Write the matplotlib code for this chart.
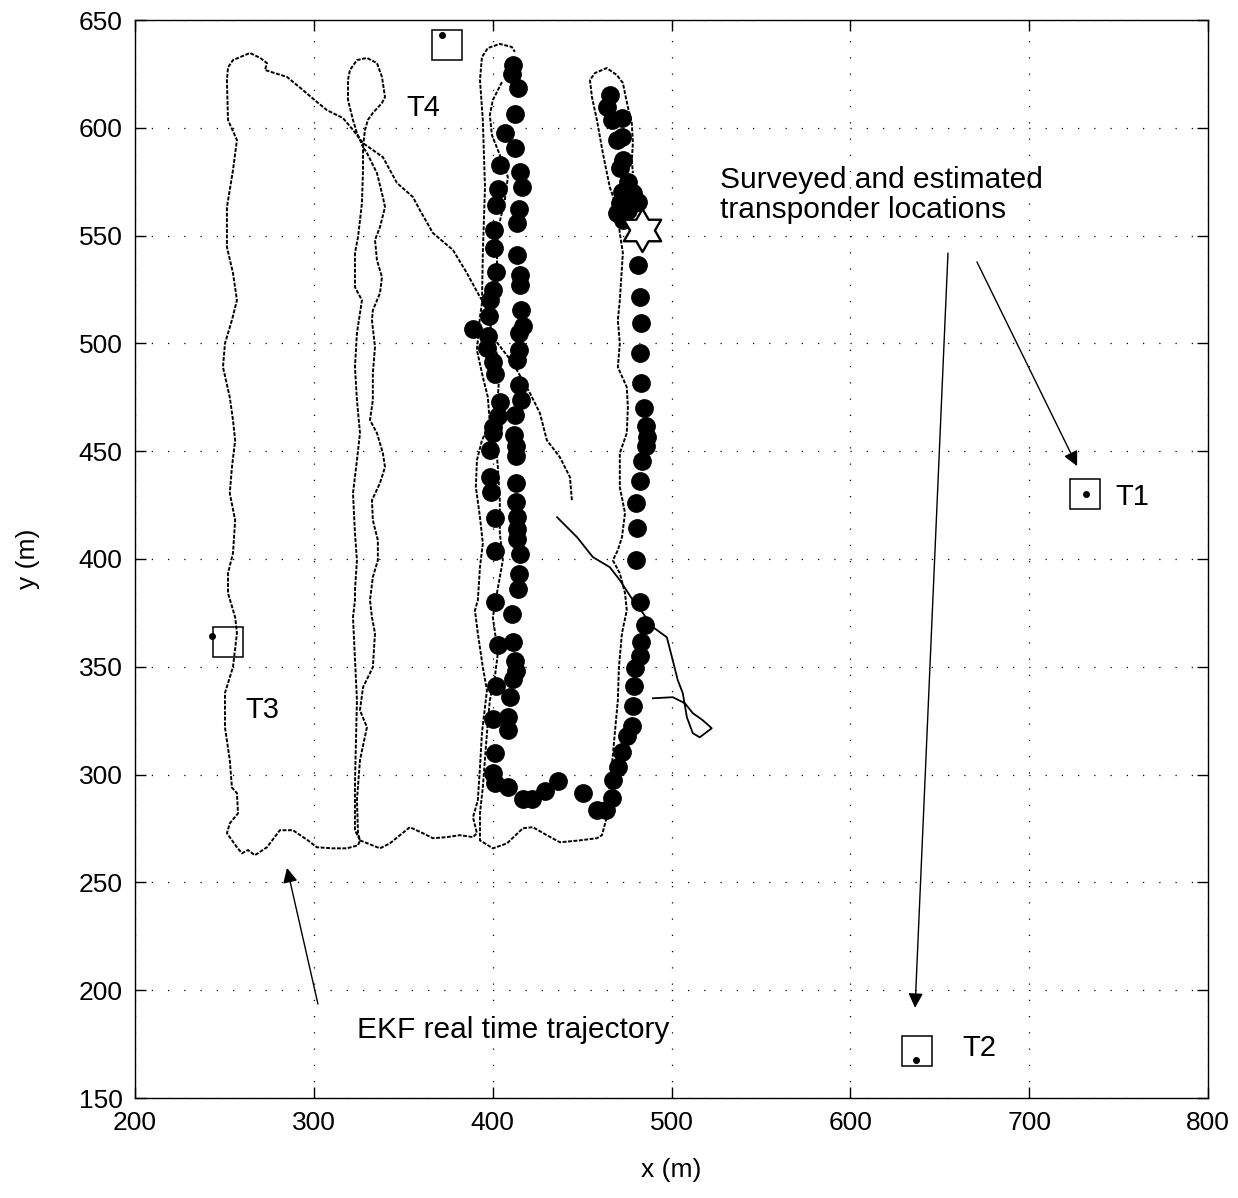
import numpy as np
import matplotlib
matplotlib.use("Agg")
import matplotlib.pyplot as plt
from matplotlib.path import Path

plt.rcParams['font.family'] = ['Liberation Sans', 'DejaVu Sans']

# ---------------- data (metres) ----------------
# EKF real-time trajectory, piece 1: diagonal, left leg, second leg loop, third leg (left line)
track1_x = [444.3, 443.2, 437.6, 430.3, 426.4, 420.8, 411.3, 400.1, 396.8, 392.9, 385.6, 377.8, 366.6, 359.3,
            355.4, 346.5, 338.6, 327.5, 321.9, 316.3, 307.3, 301.7, 293.9, 285.0, 272.7, 273.8, 270.0, 264.3,
            254.8, 252.0, 251.4, 252.0, 257.0, 254.8, 251.4, 251.4, 254.8, 257.0, 254.2, 250.3, 249.2, 253.0,
            254.8, 256.0, 254.2, 253.0, 256.0, 254.8, 252.0, 252.0, 256.0, 257.0, 254.8, 250.3, 250.3, 253.0,
            254.2, 257.0, 257.6, 253.0, 251.4, 257.0, 259.8, 263.2, 267.0, 273.8, 281.0, 288.3, 294.0, 296.7,
            301.7, 310.7, 318.5, 324.7, 325.8, 323.0, 323.0, 324.1, 321.9, 323.0, 323.0, 324.1, 323.0, 321.9,
            324.1, 325.8, 324.1, 323.0, 324.1, 325.8, 326.9, 323.0, 323.0, 324.7, 326.9, 327.5, 327.5, 324.1,
            321.9, 319.1, 319.1, 320.2, 324.1, 329.7, 335.3, 338.1, 339.8, 338.1, 333.0, 330.2, 328.6, 327.5,
            329.7, 335.3, 338.6, 339.8, 337.0, 334.2, 335.3, 338.1, 337.0, 333.0, 332.5, 334.2, 333.0, 333.0,
            331.4, 335.3, 338.6, 339.8, 337.0, 332.5, 333.0, 335.8, 335.8, 333.0, 331.4, 332.5, 334.2, 333.0,
            327.5, 325.8, 329.7, 325.8, 324.1, 324.7, 325.8, 337.0, 342.5, 353.7, 361.0, 366.6, 374.4, 381.7,
            389.0, 391.2, 389.0, 391.7, 392.9, 394.0, 396.8, 394.5, 391.7, 390.1, 391.7, 392.9, 394.5, 392.9,
            390.6, 391.2, 394.0, 398.4, 397.3, 394.5, 391.2, 392.9, 394.0, 394.5, 395.7, 394.5, 392.9, 394.0,
            397.3, 404.0, 410.7, 412.4]
track1_y = [427.3, 438.0, 447.2, 455.1, 467.7, 477.0, 490.9, 502.9, 516.8, 521.5, 532.6, 543.3, 551.2, 561.8,
            567.9, 574.4, 586.4, 592.9, 599.0, 604.5, 608.2, 612.0, 617.5, 623.6, 626.8, 630.0, 632.4, 634.7,
            631.4, 628.0, 622.0, 603.6, 594.3, 580.4, 563.2, 544.7, 532.6, 520.0, 510.8, 500.0, 489.0, 475.0,
            464.4, 455.0, 442.6, 430.5, 418.0, 402.7, 393.4, 384.2, 373.0, 365.6, 350.0, 337.8, 322.0, 306.7,
            294.0, 291.4, 282.0, 277.4, 272.8, 266.3, 263.5, 265.0, 262.6, 266.3, 274.2, 274.2, 271.0, 269.5,
            266.3, 265.8, 265.8, 267.2, 269.5, 274.2, 296.0, 334.5, 373.0, 380.9, 385.5, 399.4, 412.0, 430.5,
            445.8, 458.4, 473.7, 489.0, 504.8, 514.0, 520.0, 526.1, 541.9, 549.3, 565.1, 580.4, 591.1, 597.6,
            603.6, 612.9, 622.2, 626.8, 631.4, 632.4, 630.0, 623.6, 614.3, 611.5, 606.9, 603.6, 599.0, 591.1,
            588.3, 579.0, 567.9, 563.2, 554.0, 548.0, 538.6, 530.8, 523.3, 515.4, 510.8, 498.3, 486.2, 473.7,
            464.4, 458.4, 449.1, 442.6, 435.2, 427.3, 418.0, 408.7, 399.4, 391.6, 380.9, 373.0, 365.6, 349.8,
            340.5, 329.8, 322.0, 306.7, 288.1, 272.8, 269.5, 265.8, 268.1, 275.6, 272.8, 270.5, 271.0, 271.9,
            271.0, 272.8, 280.2, 288.1, 303.4, 319.2, 339.1, 349.8, 365.6, 376.2, 380.9, 396.2, 407.3, 419.4,
            433.3, 445.8, 455.0, 463.0, 475.1, 484.4, 496.9, 512.2, 518.7, 541.9, 572.5, 603.6, 622.2, 632.8,
            637.0, 638.9, 637.5, 635.2]

# piece 2: third leg (inner line), bottom turn, fourth leg
track2_x = [405.2, 400.1, 398.4, 399.6, 404.0, 408.5, 406.8, 402.9, 402.4, 402.9, 398.4, 404.0, 402.9, 401.2,
            402.9, 404.0, 404.0, 405.7, 402.4, 400.1, 402.9, 401.2, 398.4, 396.8, 394.5, 392.9, 392.9, 400.1,
            408.0, 416.9, 422.5, 430.3, 437.6, 448.8, 458.3, 461.1, 463.8, 464.4, 466.6, 468.3, 470.0, 470.6,
            472.3, 475.0, 474.0, 471.1, 467.2, 470.0, 472.3, 474.0, 471.1, 471.1, 475.0, 475.6, 475.0, 470.0,
            471.1, 470.0, 471.1, 472.8, 471.1, 469.4, 465.5, 461.6, 458.3, 455.5, 454.4, 457.2, 463.8, 469.4,
            472.8, 475.6, 477.8, 478.4, 477.8, 478.4]
track2_y = [621.2, 612.9, 605.9, 596.6, 587.4, 577.2, 566.5, 552.6, 538.6, 524.7, 509.4, 489.0, 475.1, 458.4,
            442.6, 427.3, 412.0, 399.4, 384.2, 373.0, 356.3, 345.2, 334.5, 319.2, 294.1, 282.1, 269.5, 265.8,
            268.1, 275.1, 275.6, 271.9, 268.6, 269.5, 270.5, 271.9, 280.2, 288.1, 303.4, 319.2, 334.5, 349.8,
            365.6, 376.2, 384.2, 393.4, 399.4, 404.1, 410.1, 421.3, 433.3, 449.1, 458.4, 470.4, 479.7, 489.0,
            499.9, 510.8, 520.0, 541.9, 551.2, 563.2, 572.5, 588.3, 603.6, 614.3, 622.2, 625.4, 627.7, 624.5,
            620.8, 609.6, 602.2, 592.9, 585.0, 579.0]

# piece 3: final run with loop
track3_x = [436.0, 447.2, 456.0, 465.5, 471.1, 478.4, 484.0, 489.6, 497.4, 500.7, 503.5, 506.3, 508.6, 511.9,
            515.8, 522.5, 517.5, 511.9, 507.5, 500.7, 489.6]
track3_y = [419.4, 410.1, 400.9, 396.2, 390.2, 380.9, 374.9, 368.4, 363.7, 353.0, 343.8, 337.8, 326.6, 319.2,
            317.3, 321.5, 325.2, 328.5, 333.1, 335.9, 335.4]

# large black dots
dots_x = [411.4, 411.0, 414.2, 412.5, 412.5, 415.3, 416.4, 414.7, 413.6, 413.6, 415.3, 415.3, 415.9, 417.0,
          414.7, 414.7, 413.6, 414.7, 415.9, 412.5, 411.9, 413.1, 413.1, 413.1, 413.1, 413.6, 413.6, 413.6,
          415.3, 414.7, 414.2, 410.8, 411.4, 412.5, 413.1, 411.4, 409.7, 408.6, 408.6, 408.6,
          406.9, 404.1, 403.0, 401.9, 400.8, 400.8, 401.9, 400.2, 398.5, 398.0, 389.0, 397.4, 396.8, 400.2,
          401.3, 404.1, 403.0, 400.2, 400.2, 398.5, 398.5, 399.1, 401.3, 401.3, 401.3, 403.0, 401.9, 400.2,
          401.3, 400.2, 401.3,
          417.0, 422.0, 429.3, 436.5, 450.5, 458.3, 463.4, 466.7, 467.3, 470.1, 472.3, 475.1, 477.9, 478.5,
          479.0, 479.6, 482.4, 483.0, 485.2, 482.4, 480.2, 480.7, 480.2, 482.4, 483.5, 485.8, 486.3, 485.8,
          484.6, 483.0, 482.4, 483.0, 482.4, 481.3,
          465.6, 463.9, 466.7, 472.3, 469.5, 472.3, 472.9, 471.2, 475.7, 472.3, 478.5, 481.3, 471.2, 469.5,
          472.9, 475.7]
dots_y = [629.1, 625.0, 618.5, 606.4, 590.6, 579.5, 572.5, 562.3, 555.8, 541.0, 531.7, 527.1, 515.5, 508.1,
          504.8, 496.9, 492.3, 480.7, 473.8, 466.8, 457.5, 452.4, 447.8, 435.3, 426.5, 419.5, 413.9, 409.3,
          402.3, 393.1, 386.1, 374.5, 361.5, 352.7, 348.1, 344.4, 336.0, 326.7, 320.7, 294.3,
          597.6, 582.7, 571.6, 564.2, 552.6, 544.3, 533.1, 524.8, 520.1, 512.7, 506.7, 503.4, 497.9, 491.4,
          485.8, 472.8, 466.3, 461.2, 458.5, 450.6, 438.0, 431.1, 419.0, 403.7, 380.1, 360.1, 341.1, 325.8,
          310.0, 300.8, 296.1,
          288.7, 288.7, 292.4, 297.1, 291.5, 283.6, 283.6, 289.2, 297.5, 303.5, 310.5, 317.9, 322.6, 331.8,
          341.1, 349.5, 355.0, 361.5, 369.4, 380.1, 399.5, 414.4, 426.0, 436.2, 445.5, 452.4, 456.6, 461.7,
          470.0, 481.6, 495.6, 509.5, 521.5, 536.4,
          615.2, 609.6, 603.6, 604.5, 594.3, 595.7, 585.1, 581.4, 574.9, 570.2, 569.8, 565.6, 565.1, 560.5,
          557.2, 561.9]

# start position (star)
star_x, star_y = 483.5, 552.6

# transponders: box = surveyed, dot = estimated
tp_names = ['T1', 'T2', 'T3', 'T4']
tp_box_x = [731.2, 637.4, 252.0, 374.6]
tp_box_y = [430.2, 171.6, 361.3, 638.3]
tp_est_x = [731.8, 636.6, 242.9, 371.7]
tp_est_y = [430.2, 167.6, 364.3, 643.0]
tp_label_x = [748.0, 662.5, 261.5, 352.0]
tp_label_y = [428.8, 173.2, 330.0, 609.0]

x_ticks = [200, 300, 400, 500, 600, 700, 800]
y_ticks = [150, 200, 250, 300, 350, 400, 450, 500, 550, 600, 650]

# ---------------- figure ----------------
fig = plt.figure(figsize=(12.38, 11.98), dpi=100)
ax = fig.add_axes([135 / 1238, 100 / 1198, 1073 / 1238, 1078 / 1198])

traj_style = dict(color='k', lw=1.4, linestyle=(0, (2.0, 0.8)))
ax.plot(track1_x, track1_y, **traj_style)
ax.plot(track2_x, track2_y, **traj_style)
ax.plot(track3_x, track3_y, color='k', lw=1.3)

ax.plot(dots_x, dots_y, 'o', color='k', markersize=12.5, linestyle='none')

# six-pointed star marker
ang_out = np.deg2rad(90 + 60 * np.arange(6))
ang_in = ang_out + np.deg2rad(30)
verts = []
for ao, ai in zip(ang_out, ang_in):
    verts.append((np.cos(ao), np.sin(ao)))
    verts.append((np.cos(ai) / np.sqrt(3), np.sin(ai) / np.sqrt(3)))
verts.append(verts[0])
hexagram = Path(verts, closed=True)
ax.plot([star_x], [star_y], marker=hexagram, markersize=31, markerfacecolor='white',
        markeredgecolor='k', markeredgewidth=1.7, linestyle='none', zorder=5)

ax.plot(tp_box_x, tp_box_y, 's', markersize=21, markerfacecolor='none', markeredgecolor='k',
        markeredgewidth=1.1, linestyle='none')
ax.plot(tp_est_x, tp_est_y, 'o', markersize=4, color='k', linestyle='none')
for n, lx, ly in zip(tp_names, tp_label_x, tp_label_y):
    ax.text(lx, ly, n, fontsize=21, ha='left', va='center')

ax.text(527.1, 568.8, 'Surveyed and estimated\ntransponder locations', fontsize=21.5,
        ha='left', va='center', linespacing=1.1)
ax.text(324.1, 181.6, 'EKF real time trajectory', fontsize=21.5, ha='left', va='center')

arrow = dict(arrowstyle='-|>', color='k', lw=1.0, mutation_scale=22, shrinkA=0, shrinkB=0)
ax.annotate('', xy=(636.2, 191.8), xytext=(654.6, 541.9), arrowprops=arrow)
ax.annotate('', xy=(726.8, 443.1), xytext=(670.8, 537.8), arrowprops=arrow)
ax.annotate('', xy=(285.0, 256.7), xytext=(302.3, 193.6), arrowprops=arrow)

ax.set_xlim(200, 800)
ax.set_ylim(150, 650)
ax.set_xticks(x_ticks)
ax.set_yticks(y_ticks)
ax.tick_params(direction='in', top=True, right=True, length=8, width=1, labelsize=19, pad=9)
ax.grid(True, color='k', linestyle=(0, (1, 12)), linewidth=0.9)
for s in ax.spines.values():
    s.set_linewidth(1.0)
ax.set_xlabel('x (m)', fontsize=19, labelpad=17)
ax.set_ylabel('y (m)', fontsize=19, labelpad=28)

fig.savefig('out.png', dpi=100)
